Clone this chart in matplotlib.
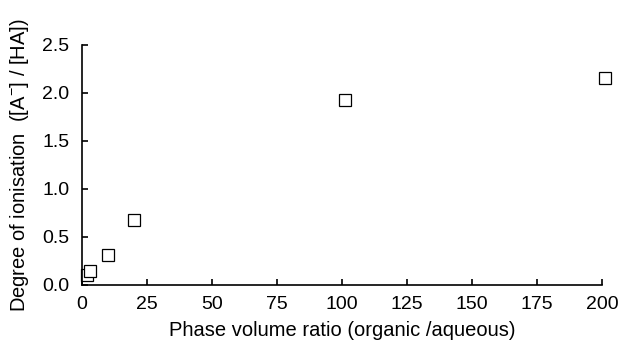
import matplotlib
matplotlib.use('Agg')
import matplotlib.pyplot as plt

# phase volume ratio vs degree of ionisation
ratio = [2, 3, 10, 20, 101, 201]
ionisation = [0.10, 0.15, 0.31, 0.68, 1.93, 2.16]

xticks = [0, 25, 50, 75, 100, 125, 150, 175, 200]
yticks = [0.0, 0.5, 1.0, 1.5, 2.0, 2.5]

plt.rcParams['font.family'] = ['Liberation Sans', 'DejaVu Sans']
plt.rcParams['mathtext.default'] = 'regular'

fig = plt.figure(figsize=(6.18, 3.45), dpi=100)
ax = fig.add_axes([0.1327, 0.174, 0.8413, 0.696])

ax.plot(ratio, ionisation, linestyle='none', marker='s', markersize=8,
        markerfacecolor='white', markeredgecolor='black', markeredgewidth=0.9,
        clip_on=False)

ax.set_xlim(0, 200)
ax.set_ylim(0, 2.5)
ax.set_xticks(xticks)
ax.set_xticklabels([str(t) for t in xticks])
ax.set_yticks(yticks)
ax.set_yticklabels(['%.1f' % t for t in yticks])

for s in ['top', 'right']:
    ax.spines[s].set_visible(False)
for s in ['left', 'bottom']:
    ax.spines[s].set_linewidth(1.2)

ax.tick_params(direction='in', length=4, width=1.2, labelsize=14)
ax.tick_params(axis='x', pad=8)
ax.tick_params(axis='y', pad=9)

ax.set_xlabel('Phase volume ratio (organic /aqueous)', fontsize=14.5, labelpad=6)
ax.set_ylabel('Degree of ionisation  ([A$^{-}$] / [HA])', fontsize=14.5, labelpad=8)

fig.savefig('out.png', dpi=100)
